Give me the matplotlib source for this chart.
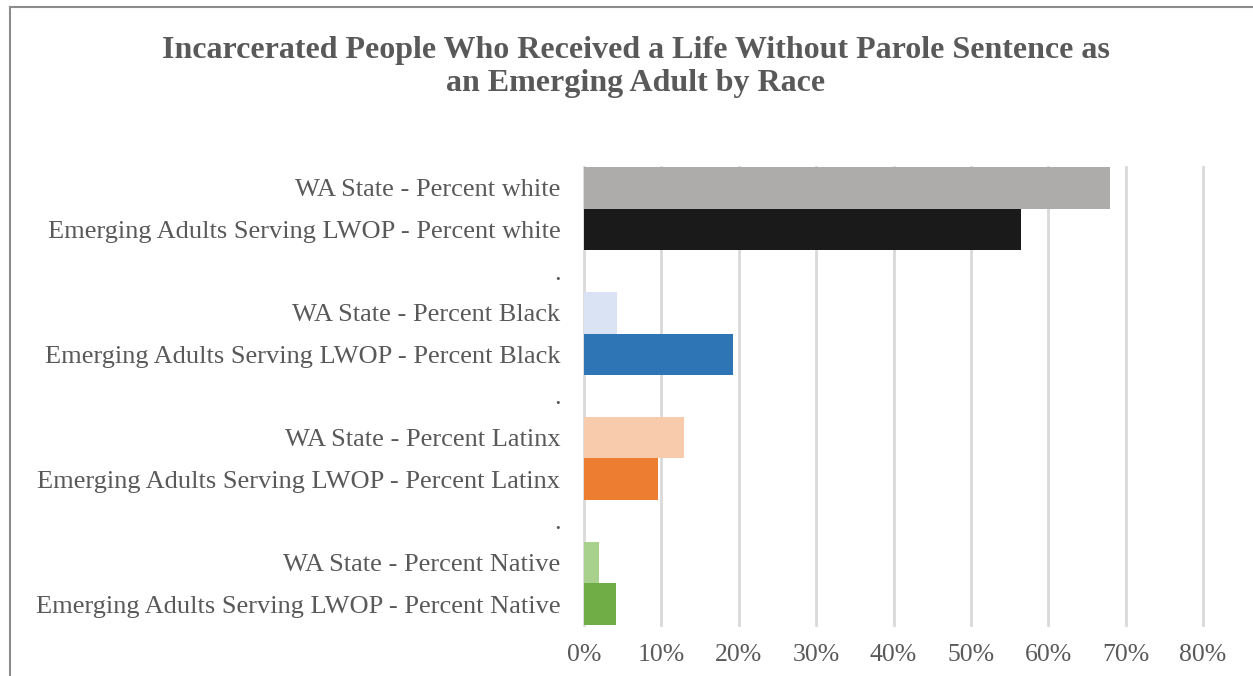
import matplotlib.pyplot as plt
from matplotlib.lines import Line2D
from matplotlib.ticker import FuncFormatter

# categories top to bottom, "." rows are empty spacer categories
labels = [
    "WA State - Percent white",
    "Emerging Adults Serving LWOP - Percent white",
    ".",
    "WA State - Percent Black",
    "Emerging Adults Serving LWOP - Percent Black",
    ".",
    "WA State - Percent Latinx",
    "Emerging Adults Serving LWOP - Percent Latinx",
    ".",
    "WA State - Percent Native",
    "Emerging Adults Serving LWOP - Percent Native",
]
values = [0.680, 0.565, 0, 0.043, 0.193, 0, 0.129, 0.095, 0, 0.020, 0.041]
colors = ["#AEABAB", "#1A1A1A", "none",
          "#DAE3F3", "#2E75B6", "none",
          "#F8CBAD", "#ED7D31", "none",
          "#A9D18E", "#70AD47"]
x_ticks = [0, 0.1, 0.2, 0.3, 0.4, 0.5, 0.6, 0.7, 0.8]

title = ("Incarcerated People Who Received a Life Without Parole Sentence as\n"
         "an Emerging Adult by Race")

TEXT = "#595959"
plt.rcParams["font.family"] = ["Liberation Serif", "DejaVu Serif"]

fig = plt.figure(figsize=(12.53, 6.76), dpi=100)
ax = fig.add_axes([584 / 1253, 51 / 676, (1203 - 584) / 1253, (625 - 167) / 676])

ypos = list(range(len(labels)))
ax.barh(ypos, values, height=1.0, color=colors, edgecolor="none", zorder=3)

ax.set_ylim(len(labels) - 0.5, -0.5)
ax.set_xlim(0, 0.8)
ax.set_yticks(ypos)
ax.set_yticklabels(labels, fontsize=19, color=TEXT)
ax.set_xticks(x_ticks)
ax.xaxis.set_major_formatter(FuncFormatter(lambda v, _: f"{v * 100:.0f}%"))
ax.tick_params(axis="x", labelsize=18.5, labelcolor=TEXT, length=0, pad=14)
ax.tick_params(axis="y", length=0, pad=17)
ax.grid(axis="x", color="#D9D9D9", linewidth=2, zorder=0)
for gl in ax.get_xgridlines():
    gl.set_clip_on(False)
for s in ax.spines.values():
    s.set_visible(False)

fig.text(636 / 1253, 1 - 67 / 676, title, ha="center", va="center", fontsize=23,
         fontweight="bold", color=TEXT, linespacing=1.2)

# outer chart frame (top and left edges visible)
fig.add_artist(Line2D([10 / 1253, 1], [1 - 7 / 676, 1 - 7 / 676],
                      color="#8C8C8C", linewidth=1.5))
fig.add_artist(Line2D([10 / 1253, 10 / 1253], [0, 1 - 7 / 676],
                      color="#8C8C8C", linewidth=1.5))

fig.savefig("out.png", dpi=100)
